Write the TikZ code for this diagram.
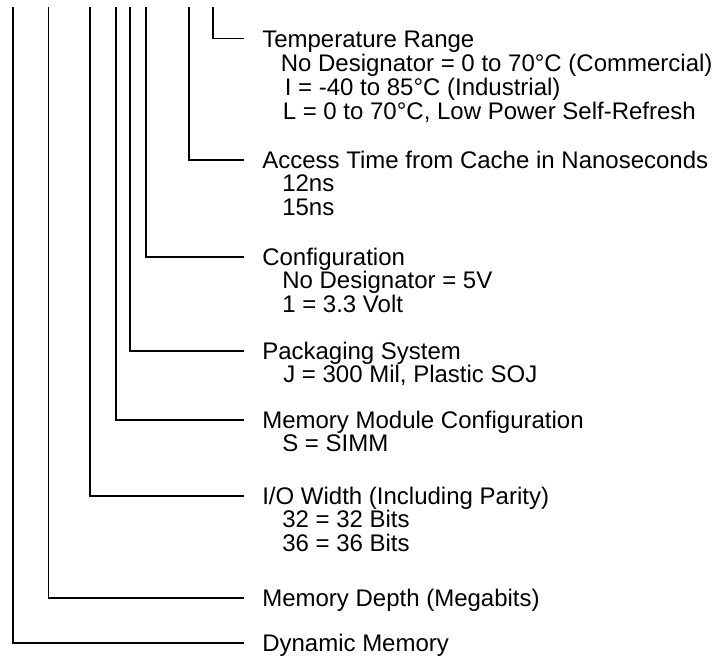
\documentclass[tikz,border=0pt]{standalone}
\usepackage{fontspec}
\setmainfont{Liberation Sans}
\usepackage{tikz}
\newcommand{\partfont}{\fontsize{18pt}{18.2pt}\selectfont}

\begin{document}
\begin{tikzpicture}[x=0.75pt,y=0.75pt,yscale=-1,xscale=1,
  lead/.style={line width=1.4pt},
  field/.style={anchor=west, inner xsep=13.5pt, inner ysep=0pt, text height=12.9pt, text depth=0pt, font=\partfont},
  choice/.style={anchor=north west, inner sep=0pt, align=left, font=\partfont}]
  \useasboundingbox (0,0) rectangle (717,660);

  %Leg tops
  \coordinate (legTemp) at (213,7.5);
  \coordinate (legAcc) at (189,7.5);
  \coordinate (legConf) at (146,7.5);
  \coordinate (legPack) at (130,7.5);
  \coordinate (legMod) at (116,7.5);
  \coordinate (legIO) at (90,7.5);
  \coordinate (legDepth) at (48.5,7.5);
  \coordinate (legDyn) at (13,7.5);

  % Text Node
  \node (temp) [field] at (244,38.5) {Temperature Range};
  \node (tempc) [choice] at (280.5,53.5) {No Designator = 0 to 70°C (Commercial)\\
    \hspace*{3pt}I = -40 to 85°C (Industrial)\\
    \hspace*{1.5pt}L = 0 to 70°C, Low Power Self-Refresh};
  % Text Node
  \node (acc) [field] at (244,160) {Access Time from Cache in Nanoseconds};
  \node (accc) [choice] at (282,174) {12ns\\15ns};
  % Text Node
  \node (conf) [field] at (244,257) {Configuration};
  \node (confc) [choice] at (282,271) {No Designator = 5V\\1 = 3.3 Volt};
  % Text Node
  \node (pack) [field] at (244,351) {Packaging System};
  \node (packc) [choice] at (283,365) {J = 300 Mil, Plastic SOJ};
  % Text Node
  \node (mod) [field] at (244,420) {Memory Module Configuration};
  \node (modc) [choice] at (282,434) {S = SIMM};
  % Text Node
  \node (io) [field] at (244,496) {I/O Width (Including Parity)};
  \node (ioc) [choice] at (282,510) {32 = 32 Bits\\36 = 36 Bits};
  % Text Node
  \node (depth) [field] at (244,598) {Memory Depth (Megabits)};
  % Text Node
  \node (dyn) [field] at (244,643) {Dynamic Memory};

  %Straight Lines
  \draw [lead] (legTemp) |- (temp);
  \draw [lead] (legAcc) |- (acc);
  \draw [lead] (legConf) |- (conf);
  \draw [lead] (legPack) |- (pack);
  \draw [lead] (legMod) |- (mod);
  \draw [lead] (legIO) |- (io);
  \draw [lead] (legDepth) |- (depth);
  \draw [lead] (legDyn) |- (dyn);
\end{tikzpicture}
\end{document}
